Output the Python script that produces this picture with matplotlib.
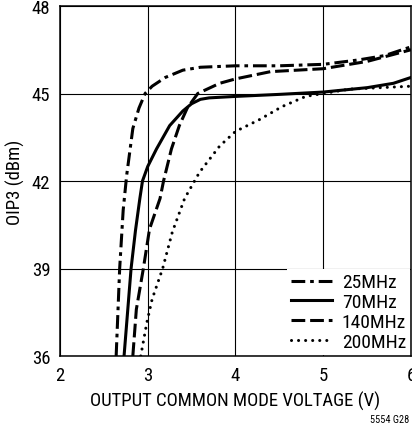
import matplotlib
matplotlib.use("Agg")
import matplotlib.pyplot as plt

plt.rcParams['font.family'] = ['Roboto Condensed', 'DejaVu Sans']

x_25 = [2.64, 2.68, 2.72, 2.76, 2.83, 2.90, 2.97, 3.05, 3.2, 3.4, 3.6, 4.0, 4.5, 5.0, 5.4, 5.7, 6.0]
y_25 = [36, 39, 41, 42.2, 43.8, 44.5, 45.0, 45.25, 45.55, 45.8, 45.9, 45.95, 45.95, 46.0, 46.15, 46.3, 46.6]

x_70 = [2.73, 2.77, 2.81, 2.86, 2.91, 2.94, 3.0, 3.1, 3.25, 3.4, 3.5, 3.6, 3.7, 4.0, 4.5, 5.0, 5.5, 5.8, 6.0]
y_70 = [36, 37.5, 39, 40.3, 41.4, 42.0, 42.5, 43.1, 43.9, 44.4, 44.65, 44.8, 44.85, 44.9, 44.97, 45.05, 45.2, 45.35, 45.55]

x_140 = [2.83, 2.87, 2.95, 3.02, 3.14, 3.18, 3.27, 3.36, 3.45, 3.57, 3.82, 4.0, 4.4, 5.0, 5.5, 6.0]
y_140 = [36, 37.6, 39, 40.35, 41.4, 42.0, 43.1, 43.9, 44.5, 45.0, 45.35, 45.5, 45.75, 45.85, 46.1, 46.5]

x_200 = [2.92, 2.99, 3.05, 3.17, 3.28, 3.42, 3.59, 3.82, 4.0, 4.27, 4.53, 4.8, 5.0, 5.3, 6.0]
y_200 = [36, 37.15, 37.95, 39, 40.25, 41.4, 42.3, 43.2, 43.7, 44.1, 44.55, 44.9, 45.0, 45.15, 45.25]

labels = ['25MHz', '70MHz', '140MHz', '200MHz']
xticks = [2, 3, 4, 5, 6]
yticks = [36, 39, 42, 45, 48]

fig = plt.figure(figsize=(4.12, 4.31), dpi=100)
ax = fig.add_axes([60/412, 74/431, 351/412, 350/431])

lw = 2.2
ax.plot(x_25, y_25, color='black', lw=lw, linestyle=(0, (4.5, 1.6, 1.2, 1.6)), label=labels[0])
ax.plot(x_70, y_70, color='black', lw=lw, linestyle='-', label=labels[1])
ax.plot(x_140, y_140, color='black', lw=lw, linestyle=(0, (4.5, 1.6)), label=labels[2])
l4, = ax.plot(x_200, y_200, color='black', lw=lw, linestyle=(0, (0.01, 2.3)), label=labels[3])
l4.set_dash_capstyle('round')

ax.set_xlim(2, 6)
ax.set_ylim(36, 48)
ax.set_xticks(xticks)
ax.set_yticks(yticks)
ax.grid(True, color='black', lw=0.8)
ax.set_axisbelow(True)
for s in ax.spines.values():
    s.set_linewidth(1.1)
    s.set_zorder(6)
ax.tick_params(length=0, labelsize=13.5, pad=7)
ax.set_xlabel('OUTPUT COMMON MODE VOLTAGE (V)', fontsize=13.5, labelpad=5)
ax.set_ylabel('OIP3 (dBm)', fontsize=13.5, labelpad=5)

leg = ax.legend(loc='lower right', fontsize=14, frameon=True, fancybox=False,
                handlelength=2.1, handletextpad=0.5, labelspacing=0.1,
                borderpad=0.2, borderaxespad=0.05)
leg.get_frame().set_edgecolor('none')
leg.get_frame().set_facecolor('white')
leg.get_frame().set_alpha(1)

fig.text(409/412, 1 - 420/431, '5554 G28', fontsize=7.5, ha='right', va='center')

fig.savefig('out.png', dpi=100)
